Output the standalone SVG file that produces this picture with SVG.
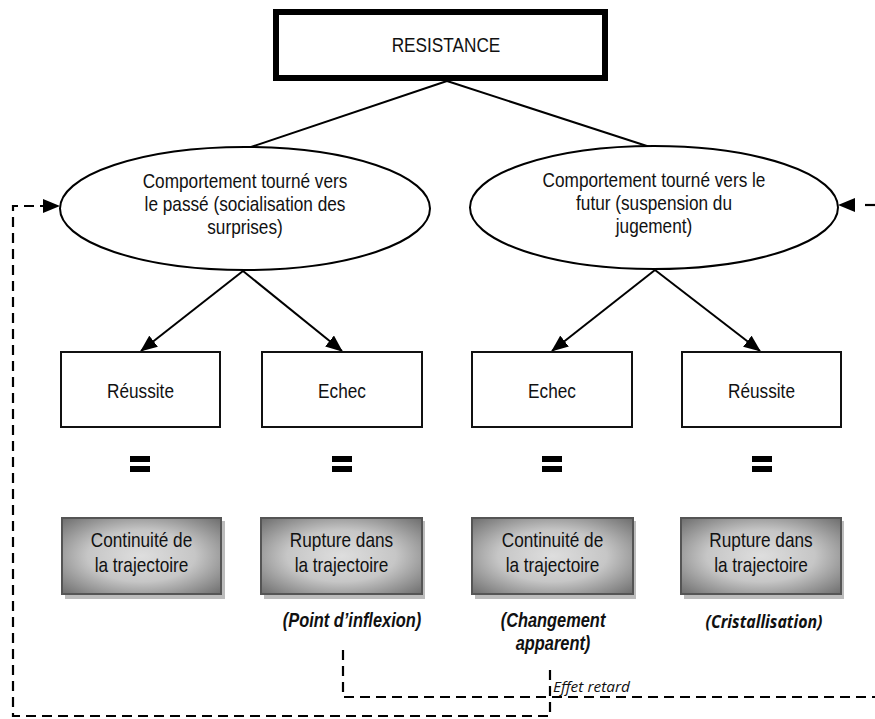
<svg xmlns="http://www.w3.org/2000/svg" width="875" height="719" viewBox="0 0 875 719">
<style>
.t{font-family:"Liberation Sans",Arial,sans-serif;font-size:21px;fill:#111;text-anchor:middle}
.bi{font-family:"Liberation Sans",Arial,sans-serif;font-size:20px;font-weight:bold;font-style:italic;fill:#111;text-anchor:middle}
.ci{font-family:"Open Sans","Noto Sans",sans-serif;font-size:18px;font-weight:bold;font-style:italic;fill:#111;text-anchor:middle}
.er{font-family:"Open Sans","Noto Sans",sans-serif;font-size:15px;font-style:italic;fill:#111}
.box{fill:#fff;stroke:#111;stroke-width:2}
.ell{fill:#fff;stroke:#000;stroke-width:2}
.gbox{fill:url(#g);stroke:#555;stroke-width:2}
.sh{fill:#bcbcbc}
.ln{stroke:#000;stroke-width:2;fill:none}
.da{stroke:#000;stroke-width:2.2;fill:none;stroke-dasharray:10,6}
.eq{fill:#000}
</style>
<defs>
<radialGradient id="g" cx="0.5" cy="0.5" r="0.75">
<stop offset="0" stop-color="#dedede"/>
<stop offset="0.45" stop-color="#c6c6c6"/>
<stop offset="1" stop-color="#626262"/>
</radialGradient>
<marker id="ah" markerUnits="userSpaceOnUse" markerWidth="18" markerHeight="14" refX="16" refY="7" orient="auto">
<path d="M0,0 L17,7 L0,14 Z" fill="#000"/>
</marker>
</defs>

<g id="connectors">
<line class="ln" x1="447" y1="81" x2="248" y2="148"/>
<line class="ln" x1="447" y1="81" x2="650" y2="147"/>
<line class="ln" x1="243" y1="271" x2="141" y2="351" marker-end="url(#ah)"/>
<line class="ln" x1="243" y1="271" x2="342" y2="351" marker-end="url(#ah)"/>
<line class="ln" x1="655" y1="270" x2="552" y2="351" marker-end="url(#ah)"/>
<line class="ln" x1="655" y1="270" x2="760" y2="351" marker-end="url(#ah)"/>
<path class="da" d="M550,670 V716 H13 V206 H46"/>
<path d="M60,206 L43,199 L43,213 Z" fill="#000"/>
<path class="da" d="M343,650 V697 H875"/>
<path class="da" d="M875,205 H860"/>
<path d="M838,205 L855,198 L855,212 Z" fill="#000"/>
</g>

<g id="resistance">
<rect x="276" y="12" width="329" height="66" fill="#fff" stroke="#000" stroke-width="6"/>
<text class="t" transform="translate(446,52) scale(0.82,1)">RESISTANCE</text>
</g>

<g id="passe">
<ellipse class="ell" cx="245" cy="208.5" rx="185" ry="61.5"/>
<text class="t" transform="translate(245,188) scale(0.82,1)">Comportement tourné vers</text>
<text class="t" transform="translate(245,211) scale(0.82,1)">le passé (socialisation des</text>
<text class="t" transform="translate(245,234) scale(0.82,1)">surprises)</text>
</g>

<g id="futur">
<ellipse class="ell" cx="654" cy="207.5" rx="184" ry="61.5"/>
<text class="t" transform="translate(654,187) scale(0.82,1)">Comportement tourné vers le</text>
<text class="t" transform="translate(654,210) scale(0.82,1)">futur (suspension du</text>
<text class="t" transform="translate(654,233) scale(0.82,1)">jugement)</text>
</g>

<g id="reussite1">
<rect class="box" x="61" y="352" width="159" height="75"/>
<text class="t" transform="translate(140.5,398) scale(0.82,1)">Réussite</text>
</g>
<g id="echec1">
<rect class="box" x="262" y="352" width="160" height="75"/>
<text class="t" transform="translate(342,398) scale(0.82,1)">Echec</text>
</g>
<g id="echec2">
<rect class="box" x="472" y="352" width="160" height="75"/>
<text class="t" transform="translate(552,398) scale(0.82,1)">Echec</text>
</g>
<g id="reussite2">
<rect class="box" x="682" y="352" width="159" height="75"/>
<text class="t" transform="translate(761.5,398) scale(0.82,1)">Réussite</text>
</g>

<g id="equals">
<rect class="eq" x="130" y="456" width="20" height="6"/><rect class="eq" x="130" y="466" width="20" height="6"/>
<rect class="eq" x="332" y="456" width="20" height="6"/><rect class="eq" x="332" y="466" width="20" height="6"/>
<rect class="eq" x="542" y="456" width="20" height="6"/><rect class="eq" x="542" y="466" width="20" height="6"/>
<rect class="eq" x="752" y="456" width="20" height="6"/><rect class="eq" x="752" y="466" width="20" height="6"/>
</g>

<g id="continuite1">
<rect class="sh" x="65" y="521" width="160" height="78"/>
<rect class="gbox" x="62" y="518" width="159" height="76"/>
<text class="t" transform="translate(141.5,547) scale(0.82,1)">Continuité de</text>
<text class="t" transform="translate(141.5,572) scale(0.82,1)">la trajectoire</text>
</g>
<g id="rupture1">
<rect class="sh" x="264" y="521" width="161" height="78"/>
<rect class="gbox" x="261" y="518" width="161" height="76"/>
<text class="t" transform="translate(341.5,547) scale(0.82,1)">Rupture dans</text>
<text class="t" transform="translate(341.5,572) scale(0.82,1)">la trajectoire</text>
<text class="bi" transform="translate(352,627) scale(0.82,1)">(Point d’inflexion)</text>
</g>
<g id="continuite2">
<rect class="sh" x="475" y="521" width="161" height="78"/>
<rect class="gbox" x="472" y="518" width="161" height="76"/>
<text class="t" transform="translate(552.5,547) scale(0.82,1)">Continuité de</text>
<text class="t" transform="translate(552.5,572) scale(0.82,1)">la trajectoire</text>
<text class="bi" transform="translate(553,627) scale(0.82,1)">(Changement</text>
<text class="bi" transform="translate(553,650) scale(0.82,1)">apparent)</text>
</g>
<g id="rupture2">
<rect class="sh" x="684" y="521" width="160" height="78"/>
<rect class="gbox" x="681" y="518" width="160" height="76"/>
<text class="t" transform="translate(761,547) scale(0.82,1)">Rupture dans</text>
<text class="t" transform="translate(761,572) scale(0.82,1)">la trajectoire</text>
<text class="ci" x="764" y="628" textLength="117" lengthAdjust="spacingAndGlyphs">(Cristallisation)</text>
</g>

<text class="er" x="553" y="692" textLength="77" lengthAdjust="spacingAndGlyphs">Effet retard</text>
</svg>
